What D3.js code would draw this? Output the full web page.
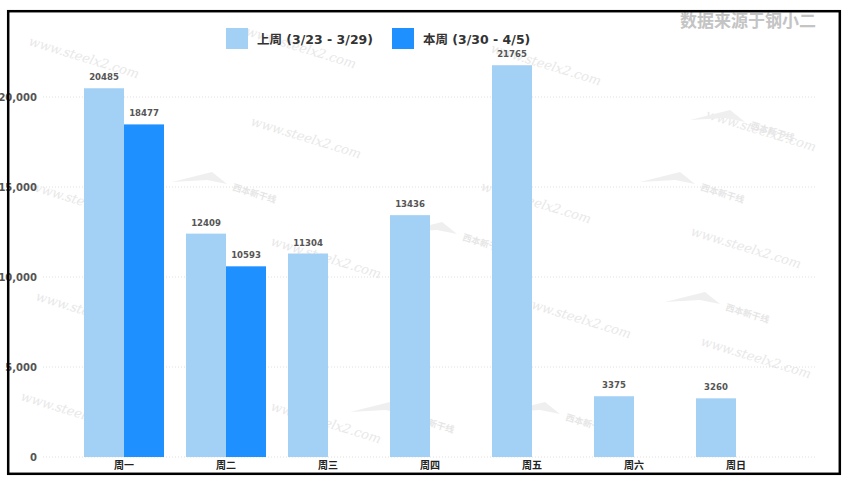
<!DOCTYPE html>
<html><head><meta charset="utf-8">
<script src="https://cdn.jsdelivr.net/npm/d3@7"></script>
<style>body{margin:0;background:#fff}svg{display:block}</style>
</head><body>
<script>
const categories = ["周一","周二","周三","周四","周五","周六","周日"];
const seriesNames = ["上周 (3/23 - 3/29)","本周 (3/30 - 4/5)"];
const lastWeek = [20485,12409,11304,13436,21765,3375,3260];
const thisWeek = [18477,10593,null,null,null,null,null];
const yTicks = [0,5000,10000,15000,20000];
const colors = ["#a3d0f5","#1e90ff"];

const W=847,H=484;
const svg=d3.select("body").append("svg").attr("width",W).attr("height",H);
svg.append("rect").attr("width",W).attr("height",H).attr("fill","#fff");

// watermarks
const wm = svg.append("g").attr("fill","#e8e8e8").attr("font-family","DejaVu Serif, serif").attr("font-style","italic").attr("font-size",13);
[[28,45],[245,35],[490,52],[705,118],[250,125],[480,190],[30,190],[270,245],[520,305],[35,300],[700,345],[20,400],[270,410],[690,235]].forEach(p=>{
  wm.append("text").attr("transform",`translate(${p[0]},${p[1]}) rotate(17)`).text("www.steelx2.com");
});
const lg = svg.append("g").attr("fill","#e6e6e6").attr("font-family","Noto Sans CJK SC").attr("font-weight","bold").attr("font-size",9);
[[700,190],[725,310],[462,240],[232,190],[750,128],[565,420],[410,420]].forEach(p=>{
  lg.append("path").attr("d",`M${p[0]-60},${p[1]-8} L${p[0]-20},${p[1]-18} L${p[0]-5},${p[1]-6} L${p[0]-25},${p[1]-10} Z`).attr("fill","#efefef");
  lg.append("text").attr("transform",`translate(${p[0]},${p[1]}) rotate(17)`).text("西本新干线");
});

const y=d3.scaleLinear().domain([0,20000]).range([457,97]);
const x0=d3.scaleBand().domain(categories).range([73,787]);
const x1=d3.scaleBand().domain([0,1]).range([0,x0.bandwidth()]).paddingOuter(0.275);

// grid
const g=svg.append("g");
g.selectAll("line.grid").data(yTicks).join("line")
 .attr("x1",43).attr("x2",817).attr("y1",d=>y(d)).attr("y2",d=>y(d))
 .attr("stroke","#e0e0e0").attr("stroke-dasharray","1,2");
const yAxis=d3.axisLeft(y).tickValues(yTicks).tickSize(0).tickPadding(0).tickFormat(d3.format(","));
const ya=svg.append("g").attr("transform","translate(37,0)").call(yAxis);
ya.select(".domain").remove();
ya.selectAll("text").attr("font-family","DejaVu Sans").attr("font-weight","bold").attr("font-size",10).attr("fill","#555");

const series=[lastWeek,thisWeek];
series.forEach((vals,si)=>{
  const data=categories.map((c,i)=>({c,v:vals[i]})).filter(d=>d.v!=null);
  svg.append("g").selectAll("rect").data(data).join("rect")
    .attr("x",d=>x0(d.c)+x1(si)).attr("width",x1.bandwidth())
    .attr("y",d=>y(d.v)).attr("height",d=>y(0)-y(d.v)).attr("fill",colors[si]);
  svg.append("g").selectAll("text").data(data).join("text")
    .attr("x",d=>x0(d.c)+x1(si)+x1.bandwidth()/2).attr("y",d=>y(d.v)-8)
    .attr("text-anchor","middle").attr("font-family","DejaVu Sans Condensed, DejaVu Sans").attr("font-stretch","condensed")
    .attr("font-weight","bold").attr("font-size",9.5).attr("fill","#555").text(d=>d.v);
});

const xAxis=d3.axisBottom(x0).tickSize(0).tickPadding(0);
const xa=svg.append("g").attr("transform","translate(0,462)").call(xAxis);
xa.select(".domain").remove();
xa.selectAll("text").attr("font-family","Noto Sans CJK SC").attr("font-weight","bold").attr("font-size",10).attr("fill","#222");

// legend
const legX=[226,392];
seriesNames.forEach((n,i)=>{
  svg.append("rect").attr("x",legX[i]).attr("y",28).attr("width",22).attr("height",21).attr("fill",colors[i]);
  svg.append("text").attr("x",legX[i]+31).attr("y",43.5).attr("font-family","DejaVu Sans, Noto Sans CJK SC").attr("font-weight","bold")
    .attr("font-size",12.5).attr("fill","#333").text(n);
});

svg.append("text").attr("x",816).attr("y",27).attr("text-anchor","end").attr("font-family","Noto Sans CJK SC")
  .attr("font-weight","bold").attr("font-size",17).attr("fill","#c4c4c4").text("数据来源于钢小二");

svg.append("rect").attr("x",8.2).attr("y",11.2).attr("width",831.6).attr("height",462.6)
  .attr("fill","none").attr("stroke","#000").attr("stroke-width",2.5);
</script>
</body></html>
